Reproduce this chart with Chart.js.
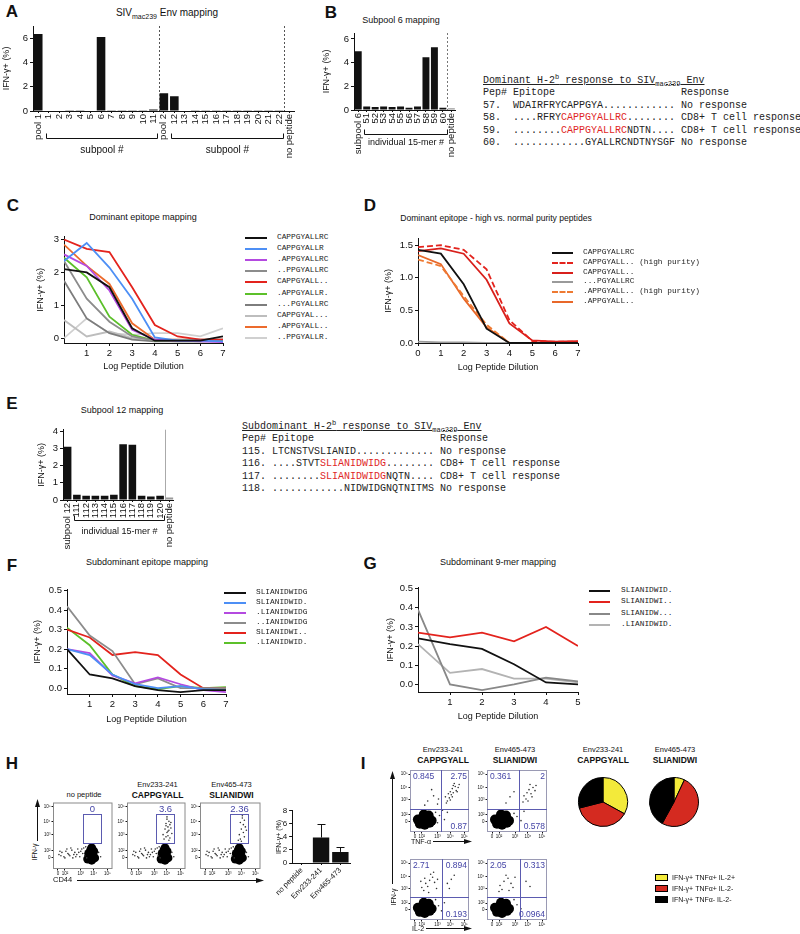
<!DOCTYPE html>
<html>
<head>
<meta charset="utf-8">
<title>SIVmac239 Env epitope mapping</title>
<script src="https://cdn.jsdelivr.net/npm/chart.js@4.4.1/dist/chart.umd.min.js"></script>
<style>
  body { margin: 0; background: #fff; }
  #fig { position: relative; width: 800px; height: 934px; overflow: hidden; background: #fff;
         font-family: "Liberation Sans", Arial, Helvetica, sans-serif; color: #111; }
  #fig canvas, #fig .abs { position: absolute; }
  .abs { white-space: nowrap; line-height: 1; }
  .tbl { white-space: pre; font-family: "Liberation Mono", "Courier New", monospace; font-size: 10px; line-height: 12.4px; color: #222; }
  .tbl .r { color: #e0261f; }
  .tbl sup, .tbl sub, .abs sub { font-size: 7px; line-height: 0; }
</style>
</head>
<body>
<div id="fig"></div>
<script>
// A - SIVmac239 Env mapping
const aLabels = ['pool 1','1','2','3','4','5','6','7','8','9','10','11','pool 2','12','13','14','15','16','17','18','19','20','21','22','no peptide'];
const aValues = [6.35,0,0,0.02,0.02,0.05,6.1,0.02,0.03,0.02,0.02,0.12,1.47,1.22,0.05,0.02,0.02,0.02,0.02,0.02,0.02,0.02,0.02,0.06,0];
const aTicks = [0,2,4,6];

// B - subpool 6
const bLabels = ['subpool 6','51','52','53','54','55','56','57','58','59','60','no peptide'];
const bValues = [4.95,0.3,0.25,0.3,0.25,0.3,0.2,0.3,4.45,5.3,0.2,0.15];
const bPep = ['57.','58.','59.','60.'];
const bSeq = ['WDAIRFRYCAPPGYA............','....RFRYCAPPGYALLRC........','........CAPPGYALLRCNDTN....','............GYALLRCNDTNYSGF'];
const bResp = ['No response','CD8+ T cell response','CD8+ T cell response','No response'];

// C - dominant epitope mapping
const cDilution = [0,1,2,3,4,5,6,7];
const cPeptides = ['CAPPGYALLRC','CAPPGYALLR','.APPGYALLRC','..PPGYALLRC','CAPPGYALL..','.APPGYALLR.','...PGYALLRC','CAPPGYAL...','.APPGYALL..','..PPGYALLR.'];
const cColors = ['#111','#4d8ff5','#b44ae0','#8c8c8c','#e3231d','#5cc02a','#7d7d7d','#bdbdbd','#ec6b2d','#d0d0d0'];
const cSeries = [
  [2.1,2.0,1.55,0.3,-0.08,-0.08,-0.08,0.05],
  [2.35,2.9,2.15,1.2,0.02,-0.08,-0.08,-0.1],
  [2.55,2.2,1.45,0.25,-0.05,-0.08,-0.1,-0.12],
  [2.35,1.2,0.5,0.05,-0.08,-0.1,-0.1,-0.1],
  [3.0,2.72,2.62,1.55,0.4,0.05,-0.05,-0.05],
  [2.45,1.85,0.65,0.1,-0.08,-0.08,-0.08,-0.08],
  [1.75,0.6,0.15,-0.05,-0.1,-0.1,-0.1,-0.08],
  [0.55,0.05,0.2,0.0,-0.05,-0.05,-0.05,-0.03],
  [2.85,2.2,1.65,0.45,-0.05,-0.05,-0.05,-0.05],
  [0.0,0.6,0.15,0.1,0.15,0.15,0.05,0.3]
];

// D - high vs normal purity
const dPeptides = ['CAPPGYALLRC','CAPPGYALL.. (high purity)','CAPPGYALL..','...PGYALLRC','.APPGYALL.. (high purity)','.APPGYALL..'];
const dColors = ['#111','#e3231d','#d8201c','#9a9a9a','#ee7a32','#e8682a'];
const dDashed = [false,true,false,false,true,false];
const dSeries = [
  [1.43,1.37,0.9,0.22,0.0,0.0,0.0,0.0],
  [1.47,1.5,1.43,1.13,0.35,0.03,0.02,0.02],
  [1.41,1.45,1.37,0.97,0.3,0.04,0.02,0.03],
  [0.02,0.01,0.01,0.0,0.0,0.0,0.0,0.0],
  [1.28,1.18,0.72,0.28,0.0,0.0,0.0,0.0],
  [1.35,1.21,0.68,0.24,0.0,0.0,0.0,0.0]
];

// E - subpool 12
const eLabels = ['subpool 12','111','112','113','114','115','116','117','118','119','120','no peptide'];
const eValues = [3.1,0.3,0.25,0.25,0.25,0.3,3.25,3.22,0.25,0.2,0.25,0.15];
const ePep = ['115.','116.','117.','118.'];
const eSeq = ['LTCNSTVSLIANID.............','....STVTSLIANIDWIDG........','........SLIANIDWIDGNQTN....','............NIDWIDGNQTNITMS'];
const eResp = ['No response','CD8+ T cell response','CD8+ T cell response','No response'];

// F - subdominant epitope mapping
const fPeptides = ['SLIANIDWIDG','SLIANIDWID.','.LIANIDWIDG','..IANIDWIDG','SLIANIDWI..','.LIANIDWID.'];
const fColors = ['#111','#4d8ff5','#b44ae0','#8c8c8c','#e3231d','#5cc02a'];
const fSeries = [
  [0.2,0.07,0.05,0.01,-0.01,-0.02,-0.01,-0.01],
  [0.2,0.17,0.07,0.02,0.0,0.01,-0.005,-0.01],
  [0.2,0.18,0.065,0.025,0.055,0.02,-0.01,-0.02],
  [0.42,0.27,0.19,0.02,0.05,0.0,0.0,0.0],
  [0.3,0.26,0.17,0.185,0.17,0.07,0.0,0.0],
  [0.31,0.22,0.07,0.01,-0.005,0.01,0.0,0.005]
];

// G - subdominant 9-mer mapping
const gDilution = [0,1,2,3,4,5];
const gPeptides = ['SLIANIDWID.','SLIANIDWI..','SLIANIDW...','.LIANIDWID.'];
const gColors = ['#111','#e3231d','#888','#b3b3b3'];
const gSeries = [
  [0.24,0.21,0.185,0.105,0.01,0.0],
  [0.27,0.245,0.27,0.225,0.3,0.2],
  [0.39,0.0,-0.03,0.0,0.035,0.015],
  [0.21,0.06,0.08,0.03,0.03,0.01]
];

// H - ICS, CD44 vs IFN-g (axis units = decades on display scale)
const flowTickX = [0.5,1.2,2.8,4.1,5.5];
const flowTickY = [1.0,1.65,3.1,4.3,5.6];
const flowTickText = ['0','10²','10³','10⁴','10⁵'];
const hTitles = ['no peptide','Env233-241','Env465-473'];
const hPeptides = ['','CAPPGYALL','SLIANIDWI'];
const hGateText = ['0','3.6','2.36'];
const hBlob = [[3.5,0.9],[3.9,0.8],[4.2,1.0],[3.6,1.4],[4.0,1.3],[3.8,1.7],[4.1,1.6],[3.7,1.1],[3.9,1.9]];
const hEvents = [[0.6,1.3],[0.9,1.5],[1.1,1.1],[1.3,1.6],[1.5,1.4],[1.7,1.2],[1.9,1.7],[2.0,1.0],[2.2,1.5],[2.4,1.3],[2.5,1.8],[2.7,1.1],[2.8,1.6],[3.0,1.4],[3.1,1.9],[3.2,1.2],[1.2,1.0],[1.8,1.9],[2.3,1.1],[2.6,1.5],[2.9,1.8],[3.3,2.0],[0.8,1.2],[1.6,1.3],[4.6,1.5],[4.8,1.1],[2.1,1.3],[1.4,1.8],[0.7,1.6],[3.4,1.0]];
const hGated233 = [[4.1,4.5],[4.3,4.3],[4.0,4.1],[4.4,4.0],[4.2,3.8],[4.5,3.7],[3.9,3.6],[4.3,3.5],[4.1,3.3],[4.6,3.2],[4.2,3.0],[4.0,2.9],[4.4,2.8],[3.8,2.7],[4.3,2.6],[4.1,4.7],[4.5,4.2],[4.2,3.4],[3.7,3.1],[4.0,3.9]];
const hGated465 = [[4.2,4.6],[4.4,4.4],[4.0,4.2],[4.3,4.0],[4.5,3.8],[4.1,3.6],[4.3,3.3],[3.9,3.1],[4.4,2.9],[4.0,2.7],[4.2,4.8],[4.6,3.5],[3.8,2.6],[4.1,2.5]];
const hBarLabels = ['no peptide','Env233-241','Env465-473'];
const hBarValues = [0,3.9,1.7];
const hBarErrHi = [0,6.0,2.4];

// I - polyfunctionality
const iBlob = [[1.0,0.8],[1.5,0.7],[2.0,0.9],[1.2,1.3],[1.7,1.2],[2.2,1.1],[1.4,1.7],[1.9,1.6],[0.8,1.2]];
const iTnf233 = [[3.6,3.4],[3.9,3.7],[4.1,3.9],[4.3,4.2],[4.0,3.3],[4.4,3.8],[4.6,4.4],[3.8,3.0],[4.2,3.6],[4.7,4.0],[4.5,4.7],[4.9,4.3],[3.7,2.8],[4.1,3.1],[4.4,4.5],[5.0,4.6],[4.8,3.9],[4.3,3.4],[1.8,3.0],[2.4,3.5],[2.8,2.7],[2.2,4.1],[1.5,2.6],[2.9,3.2],[3.0,1.6],[2.8,0.9],[3.5,1.2],[3.8,1.9],[2.6,1.9],[3.3,2.1]];
const iTnf465 = [[3.7,3.5],[4.0,3.8],[4.2,4.1],[3.9,3.2],[4.4,3.7],[4.6,4.3],[4.1,3.0],[4.8,4.0],[4.3,4.6],[3.6,2.9],[4.5,3.4],[4.9,4.5],[2.3,3.4],[1.9,2.8],[2.7,3.9],[3.0,1.5],[3.4,1.1],[2.7,1.8],[3.7,2.0]];
const iIl2233 = [[1.2,3.2],[1.6,3.6],[2.0,3.9],[2.3,4.2],[1.4,2.9],[1.8,3.3],[2.5,3.7],[2.1,4.5],[1.1,3.8],[2.7,3.1],[1.9,2.7],[2.4,4.7],[1.5,4.1],[2.8,4.0],[3.8,3.6],[4.2,4.0],[4.0,3.1],[4.5,4.4],[2.9,1.4],[3.2,0.9],[2.6,2.0],[3.5,1.7]];
const iIl2465 = [[1.3,3.4],[1.7,3.8],[2.1,4.1],[1.5,3.0],[2.4,3.6],[1.9,4.4],[2.6,3.2],[1.2,2.8],[2.2,2.9],[2.8,4.2],[3.9,3.8],[4.3,3.3],[3.0,1.5],[2.7,2.0],[3.4,1.1]];
const iTopNums = [['0.845','2.75','0.87'],['0.361','2','0.578']];
const iBotNums = [['2.71','0.894','0.193'],['2.05','0.313','0.0964']];
const iPie233 = [33,38,29];
const iPie465 = [7,51,42];
const iLegend = ['IFN-γ+ TNFα+ IL-2+','IFN-γ+ TNFα+ IL-2-','IFN-γ+ TNFα- IL-2-'];
const iColors = ['#f3ea3a','#d42a20','#000'];

const fig = document.getElementById('fig');
const gateBlue = '#5b5bb0', numBlue = '#4444a6';

// extra drawing: separators, brackets, error bars, flow frames/gates/quadrants
const deco = {
  id: 'deco',
  afterDatasetsDraw(chart, args, o) {
    const ctx = chart.ctx, a = chart.chartArea, sx = chart.scales.x, sy = chart.scales.y;
    if (!sx || !sy) return;
    ctx.save();
    ctx.lineWidth = 1;
    (o.seps || []).forEach(s => {
      const px = Math.round((sx.getPixelForValue(s.after) + sx.getPixelForValue(s.after + 1)) / 2) + 0.5;
      ctx.strokeStyle = s.color;
      ctx.setLineDash(s.dash || []);
      ctx.beginPath(); ctx.moveTo(px, a.top); ctx.lineTo(px, a.bottom); ctx.stroke();
    });
    ctx.setLineDash([]);
    (o.brackets || []).forEach(b => {
      const x0 = Math.round(sx.getPixelForValue(b.from)) - 2.5, x1 = Math.round(sx.getPixelForValue(b.to)) + 4.5;
      const y = Math.round(a.bottom + b.dy) + 0.5;
      ctx.strokeStyle = '#111';
      ctx.beginPath(); ctx.moveTo(x0, y - 5); ctx.lineTo(x0, y); ctx.lineTo(x1, y); ctx.lineTo(x1, y - 5); ctx.stroke();
      ctx.fillStyle = '#111';
      ctx.font = (b.size || 10) + 'px "Liberation Sans", Arial';
      ctx.textAlign = 'center'; ctx.textBaseline = 'middle';
      ctx.fillText(b.text, (x0 + x1) / 2, a.bottom + b.tdy);
    });
    (o.errors || []).forEach((e, i) => {
      const v = chart.data.datasets[0].data[i];
      if (!e || e <= v) return;
      const px = Math.round(sx.getPixelForValue(i)) + 0.5;
      const y0 = sy.getPixelForValue(v), y1 = Math.round(sy.getPixelForValue(e)) + 0.5;
      ctx.strokeStyle = '#111';
      ctx.beginPath(); ctx.moveTo(px, y0); ctx.lineTo(px, y1); ctx.moveTo(px - 4, y1); ctx.lineTo(px + 4, y1); ctx.stroke();
    });
    if (o.frame) {
      ctx.strokeStyle = o.frame;
      ctx.strokeRect(a.left + 0.5, a.top + 0.5, a.width - 1, a.height - 1);
    }
    if (o.gate) {
      const g = o.gate;
      const x0 = Math.round(sx.getPixelForValue(g.x0)) + 0.5, x1 = Math.round(sx.getPixelForValue(g.x1)) + 0.5;
      const y0 = Math.round(sy.getPixelForValue(g.y0)) + 0.5, y1 = Math.round(sy.getPixelForValue(g.y1)) + 0.5;
      ctx.strokeStyle = gateBlue;
      ctx.strokeRect(x0, y1, x1 - x0, y0 - y1);
      ctx.fillStyle = numBlue; ctx.font = '9.5px "Liberation Sans", Arial';
      ctx.textAlign = 'center'; ctx.textBaseline = 'bottom';
      ctx.fillText(g.text, (x0 + x1) / 2, y1);
    }
    if (o.quad) {
      const q = o.quad;
      const qx = Math.round(sx.getPixelForValue(q.x)) + 0.5, qy = Math.round(sy.getPixelForValue(q.y)) + 0.5;
      ctx.strokeStyle = gateBlue;
      ctx.beginPath(); ctx.moveTo(qx, a.top); ctx.lineTo(qx, a.bottom); ctx.moveTo(a.left, qy); ctx.lineTo(a.right, qy); ctx.stroke();
      ctx.fillStyle = numBlue; ctx.font = '8.5px "Liberation Sans", Arial';
      ctx.textBaseline = 'top';
      ctx.textAlign = 'left'; ctx.fillText(q.text[0], a.left + 3, a.top + 2);
      ctx.textAlign = 'right'; ctx.fillText(q.text[1], a.right - 2, a.top + 2);
      ctx.textBaseline = 'bottom'; ctx.fillText(q.text[2], a.right - 2, a.bottom - 1);
    }
    ctx.restore();
  }
};

Chart.defaults.font.family = '"Liberation Sans", Arial, Helvetica, sans-serif';
Chart.defaults.font.size = 9;
Chart.defaults.color = '#111';
Chart.defaults.plugins.legend.display = false;
Chart.defaults.plugins.tooltip.enabled = false;
Chart.register(deco);

function txt(html, x, y, o = {}) {
  const d = document.createElement('div');
  d.className = 'abs';
  d.innerHTML = html;
  const s = d.style;
  s.left = x + 'px'; s.top = y + 'px';
  s.fontSize = (o.size || 9) + 'px';
  if (o.bold) s.fontWeight = 'bold';
  if (o.mono) s.fontFamily = '"Liberation Mono", "Courier New", monospace';
  if (o.color) s.color = o.color;
  const tx = o.align === 'l' ? '0' : o.align === 'r' ? '-100%' : '-50%';
  s.transform = `translate(${tx}, -50%)` + (o.rot ? ` rotate(${o.rot}deg)` : '');
  fig.appendChild(d);
  return d;
}

// places a canvas so that the chart area lands on area {l,t,r,b}
function makeChart(area, sz, config) {
  const left = area.l - sz.yw, top = area.t - sz.pt;
  const w = area.r + sz.pr - left, h = area.b + sz.xh - top;
  const c = document.createElement('canvas');
  c.width = w; c.height = h;
  Object.assign(c.style, { left: left + 'px', top: top + 'px', width: w + 'px', height: h + 'px' });
  fig.appendChild(c);
  const op = config.options;
  op.responsive = false; op.animation = false; op.devicePixelRatio = 1;
  op.layout = { padding: { top: sz.pt, right: sz.pr, bottom: 0, left: 0 } };
  op.scales.x.afterFit = s => { s.height = sz.xh; };
  op.scales.y.afterFit = s => { s.width = sz.yw; };
  return new Chart(c, config);
}

function lin(min, max, ticks, o = {}) {
  return {
    type: 'linear', min, max,
    afterBuildTicks: s => { s.ticks = ticks.map(v => ({ value: v })); },
    ticks: { autoSkip: false, padding: o.pad ?? 2, font: { size: o.fs || 9.5 }, color: '#111', callback: o.fmt || (v => String(v)) },
    grid: { display: true, drawOnChartArea: false, tickLength: o.tl ?? 3, color: '#111', lineWidth: 1 },
    border: { display: o.border ?? true, color: '#111', width: 1 },
    title: { display: !!o.title, text: o.title || '', font: { size: o.tfs || 9 }, color: '#111', padding: { top: 1, bottom: 1 } }
  };
}

function cat(rot, fs) {
  return {
    type: 'category', offset: true,
    ticks: { autoSkip: false, minRotation: rot, maxRotation: rot, padding: 1, font: { size: fs }, color: '#111' },
    grid: { display: true, drawOnChartArea: false, offset: false, tickLength: 2, color: '#111' },
    border: { display: true, color: '#111', width: 1 }
  };
}

function barChart(area, sz, labels, values, yMin, yMax, yTicks, deco, o = {}) {
  return makeChart(area, sz, {
    type: 'bar',
    data: { labels, datasets: [{ data: values, backgroundColor: labels.map(l => l === 'no peptide' ? '#9a9a9a' : '#111'), borderWidth: 0, barPercentage: o.bp || 0.82, categoryPercentage: 1 }] },
    options: {
      scales: { x: cat(o.rot ?? 90, o.xfs || 9.5), y: lin(yMin, yMax, yTicks, { title: 'IFN-γ+ (%)', tfs: o.tfs, fs: o.yfs }) },
      plugins: { deco }
    }
  });
}

function lineChart(area, sz, xs, series, colors, yMin, yMax, yTicks, xMax, xTicks, o = {}) {
  return makeChart(area, sz, {
    type: 'line',
    data: { datasets: series.map((s, k) => ({
      data: xs.map((x, i) => ({ x, y: s[i] })),
      borderColor: colors[k], borderWidth: 1.8, pointRadius: 0, tension: 0, fill: false,
      borderDash: o.dashed && o.dashed[k] ? [6, 3] : []
    })) },
    options: {
      scales: {
        x: lin(0, xMax, xTicks, { title: 'Log Peptide Dilution' }),
        y: lin(yMin, yMax, yTicks, { title: 'IFN-γ+ (%)', fmt: o.fmt })
      }
    }
  });
}

function legend(x0, x1, tx, y0, dy, labels, colors, dashed) {
  labels.forEach((lab, i) => {
    const y = y0 + i * dy;
    const ln = document.createElement('div');
    ln.className = 'abs';
    Object.assign(ln.style, { left: x0 + 'px', top: (y - 1) + 'px', width: (x1 - x0) + 'px', height: '0px',
      borderTop: `2px ${dashed && dashed[i] ? 'dashed' : 'solid'} ${colors[i]}` });
    fig.appendChild(ln);
    txt(lab, tx, y, { size: 7.8, mono: true, align: 'l', color: '#222' });
  });
}

function seqTable(x, y, title, pep, seq, resp, epi) {
  const rows = [title, 'Pep# Epitope'.padEnd(33) + 'Response'];
  pep.forEach((p, i) => {
    const s = resp[i].startsWith('CD8') ? seq[i].replace(epi, `<span class="r">${epi}</span>`) : seq[i];
    rows.push(p.padEnd(5) + s + ' ' + resp[i]);
  });
  const d = document.createElement('div');
  d.className = 'abs tbl';
  d.style.left = x + 'px'; d.style.top = y + 'px';
  d.innerHTML = rows.join('\n');
  fig.appendChild(d);
}

function flowAxis(ticks) {
  return lin(0, 6, ticks, { fs: 4.5, pad: 1, tl: 1.5, border: false, fmt: (v, i) => flowTickText[i] });
}

function flowPlot(area, layers, deco) {
  return makeChart(area, { yw: 10, xh: 8, pt: 2, pr: 2 }, {
    type: 'scatter',
    data: { datasets: layers.map(l => ({ data: l.pts.map(p => ({ x: p[0], y: p[1] })), pointRadius: l.r, backgroundColor: l.c, borderWidth: 0 })) },
    options: { scales: { x: flowAxis(flowTickX), y: flowAxis(flowTickY) }, plugins: { deco } }
  });
}

function makePie(cx, cy, d, values) {
  const c = document.createElement('canvas');
  c.width = d; c.height = d;
  Object.assign(c.style, { left: (cx - d / 2) + 'px', top: (cy - d / 2) + 'px', width: d + 'px', height: d + 'px' });
  fig.appendChild(c);
  return new Chart(c, {
    type: 'pie',
    data: { labels: iLegend, datasets: [{ data: values, backgroundColor: iColors, borderColor: '#000', borderWidth: 1 }] },
    options: { responsive: false, animation: false, devicePixelRatio: 1, layout: { padding: 1 } }
  });
}

// panel letters
[['A',12,11],['B',331,12],['C',13,205],['D',370,205],['E',12,403],['F',12,565],['G',370,563],['H',12,763],['I',363,763]]
  .forEach(p => txt(p[0], p[1], p[2], { size: 17, bold: true }));

// ---- A
txt('SIV<sub>mac239</sub> Env mapping', 167, 13, { size: 10 });
barChart({ l: 33, t: 26, r: 296, b: 111 }, { yw: 33, xh: 62, pt: 8, pr: 6 }, aLabels, aValues, 0, 7, aTicks, {
  seps: [{ after: 11, color: '#555', dash: [2, 2] }, { after: 23, color: '#555', dash: [2, 2] }],
  brackets: [{ from: 1, to: 11, dy: 27, tdy: 39, text: 'subpool #' }, { from: 13, to: 23, dy: 27, tdy: 39, text: 'subpool #' }]
});

// ---- B
txt('Subpool 6 mapping', 401, 20, { size: 9 });
barChart({ l: 354, t: 33, r: 458, b: 110 }, { yw: 34, xh: 62, pt: 8, pr: 6 }, bLabels, bValues, 0, 6.5, aTicks, {
  seps: [{ after: 10, color: '#777', dash: [2, 2] }],
  brackets: [{ from: 1, to: 10, dy: 24, tdy: 33, text: 'individual 15-mer #', size: 9 }]
});
seqTable(483, 75, '<u>Dominant H-2<sup>b</sup> response to SIV<sub>mac239</sub> Env</u>', bPep, bSeq, bResp, 'CAPPGYALLRC');

// ---- C
txt('Dominant epitope mapping', 143, 217, { size: 9 });
lineChart({ l: 64, t: 235, r: 223, b: 343 }, { yw: 30, xh: 30, pt: 6, pr: 8 }, cDilution, cSeries, cColors, -0.15, 3.09, [0, 1, 2, 3], 7, [1, 2, 3, 4, 5, 6, 7]);
legend(245, 267, 277, 238, 11.1, cPeptides, cColors);

// ---- D
txt('Dominant epitope - high vs. normal purity peptides', 496, 218, { size: 8.6 });
lineChart({ l: 418, t: 237, r: 578, b: 343 }, { yw: 36, xh: 31, pt: 6, pr: 8 }, cDilution, dSeries, dColors, 0, 1.6, [0, 0.5, 1, 1.5], 7, [0, 1, 2, 3, 4, 5, 6, 7], { dashed: dDashed, fmt: v => v.toFixed(1) });
legend(552, 573, 583, 253, 9.8, dPeptides, dColors, dDashed);

// ---- E
txt('Subpool 12 mapping', 122, 410, { size: 9 });
barChart({ l: 63, t: 428, r: 176, b: 500 }, { yw: 28, xh: 52, pt: 6, pr: 6 }, eLabels, eValues, 0, 4.1, [0, 1, 2, 3, 4], {
  seps: [{ after: 10, color: '#aaa' }],
  brackets: [{ from: 1, to: 10, dy: 20, tdy: 32, text: 'individual 15-mer #', size: 9 }]
});
seqTable(242, 421, '<u>Subdominant H-2<sup>b</sup> response to SIV<sub>mac239</sub> Env</u>', ePep, eSeq, eResp, 'SLIANIDWIDG');

// ---- F
txt('Subdominant epitope mapping', 147, 562, { size: 9 });
lineChart({ l: 67, t: 588, r: 226, b: 694 }, { yw: 36, xh: 32, pt: 6, pr: 8 }, cDilution, fSeries, fColors, -0.03, 0.505, [0, 0.1, 0.2, 0.3, 0.4, 0.5], 7, [1, 2, 3, 4, 5, 6, 7], { fmt: v => v.toFixed(1) });
legend(224, 246, 256, 593, 10, fPeptides, fColors);

// ---- G
txt('Subdominant 9-mer mapping', 498, 562, { size: 9 });
lineChart({ l: 418, t: 586, r: 578, b: 692 }, { yw: 34, xh: 31, pt: 6, pr: 8 }, gDilution, gSeries, gColors, -0.04, 0.505, [0, 0.1, 0.2, 0.3, 0.4, 0.5], 5, [1, 2, 3, 4, 5], { fmt: v => v.toFixed(1) });
legend(589, 610, 621, 591, 11.3, gPeptides, gColors);

// ---- H
const hBoxes = [{ l: 53, t: 800, r: 115, b: 869 }, { l: 127, t: 800, r: 188, b: 869 }, { l: 200, t: 800, r: 263, b: 869 }];
const hGated = [[], hGated233, hGated465];
hBoxes.forEach((bx, k) => {
  const cx = (bx.l + bx.r) / 2;
  if (hPeptides[k]) {
    txt(hTitles[k], cx, 785, { size: 7.5 });
    txt(hPeptides[k], cx, 795, { size: 8.5, bold: true });
  } else {
    txt(hTitles[k], cx, 795, { size: 7.5 });
  }
  flowPlot(bx, [
    { pts: hEvents, r: 0.8, c: '#333' },
    { pts: hGated[k], r: 0.8, c: '#333' },
    { pts: hBlob, r: 4.5, c: '#000' }
  ], { frame: '#8a8a8a', gate: { x0: 3.0, x1: 4.8, y0: 2.35, y1: 4.95, text: hGateText[k] } });
});
txt('IFN-γ', 34, 852, { size: 7, rot: -90 });
txt('CD44', 53, 880, { size: 7.5, align: 'l' });
barChart({ l: 291, t: 808, r: 350, b: 863 }, { yw: 18, xh: 42, pt: 4, pr: 4 }, hBarLabels, hBarValues, 0, 8, [0, 2, 4, 6, 8],
  { errors: hBarErrHi }, { rot: 45, xfs: 7.5, tfs: 7, yfs: 8, bp: 0.85 });

// ---- I
const iTop = [{ l: 410, t: 767, r: 472, b: 832 }, { l: 487, t: 767, r: 550, b: 832 }];
const iBot = [{ l: 410, t: 856, r: 472, b: 920 }, { l: 487, t: 856, r: 550, b: 920 }];
[['Env233-241', 'CAPPGYALL', 443], ['Env465-473', 'SLIANIDWI', 515], ['Env233-241', 'CAPPGYALL', 603], ['Env465-473', 'SLIANIDWI', 675]]
  .forEach(t => { txt(t[0], t[2], 750, { size: 7.5 }); txt(t[1], t[2], 760, { size: 8.5, bold: true }); });
flowPlot(iTop[0], [{ pts: iTnf233, r: 0.8, c: '#333' }, { pts: iBlob, r: 5, c: '#000' }], { frame: '#9a9ab4', quad: { x: 3.2, y: 2.2, text: iTopNums[0] } });
flowPlot(iTop[1], [{ pts: iTnf465, r: 0.8, c: '#333' }, { pts: iBlob, r: 5, c: '#000' }], { frame: '#9a9ab4', quad: { x: 3.2, y: 2.2, text: iTopNums[1] } });
flowPlot(iBot[0], [{ pts: iIl2233, r: 0.8, c: '#333' }, { pts: iBlob, r: 5, c: '#000' }], { frame: '#9a9ab4', quad: { x: 3.3, y: 2.3, text: iBotNums[0] } });
flowPlot(iBot[1], [{ pts: iIl2465, r: 0.8, c: '#333' }, { pts: iBlob, r: 5, c: '#000' }], { frame: '#9a9ab4', quad: { x: 3.3, y: 2.3, text: iBotNums[1] } });
txt('TNF-α', 421, 841, { size: 7 });
txt('IL-2', 418, 928, { size: 7 });
txt('IFN-γ', 393, 897, { size: 7, rot: -90 });
makePie(603, 802, 52, iPie233);
makePie(674, 802, 52, iPie465);
iLegend.forEach((lab, i) => {
  const y = 877 + i * 11;
  const sw = document.createElement('div');
  sw.className = 'abs';
  Object.assign(sw.style, { left: '655px', top: (y - 3) + 'px', width: '11px', height: '5px', background: iColors[i], border: '1px solid #000' });
  fig.appendChild(sw);
  txt(lab, 672, y, { size: 7, align: 'l' });
});

// axis arrows of the flow panels
fig.insertAdjacentHTML('beforeend', `<svg width="800" height="934" style="position:absolute;left:0;top:0" xmlns="http://www.w3.org/2000/svg">
  <g stroke="#111" stroke-width="1" fill="#111">
    <line x1="37.5" y1="841" x2="37.5" y2="805"/><polygon stroke="none" points="37.5,799 35,807 40,807"/>
    <line x1="77" y1="880.5" x2="258" y2="880.5"/><polygon stroke="none" points="264,880.5 256,878 256,883"/>
    <line x1="392.5" y1="884" x2="392.5" y2="777"/><polygon stroke="none" points="392.5,771 390,779 395,779"/>
    <line x1="433" y1="841.5" x2="466" y2="841.5"/><polygon stroke="none" points="472,841.5 464,839 464,844"/>
    <line x1="426" y1="928.5" x2="466" y2="928.5"/><polygon stroke="none" points="472,928.5 464,926 464,931"/>
  </g></svg>`);
</script>
</body>
</html>
